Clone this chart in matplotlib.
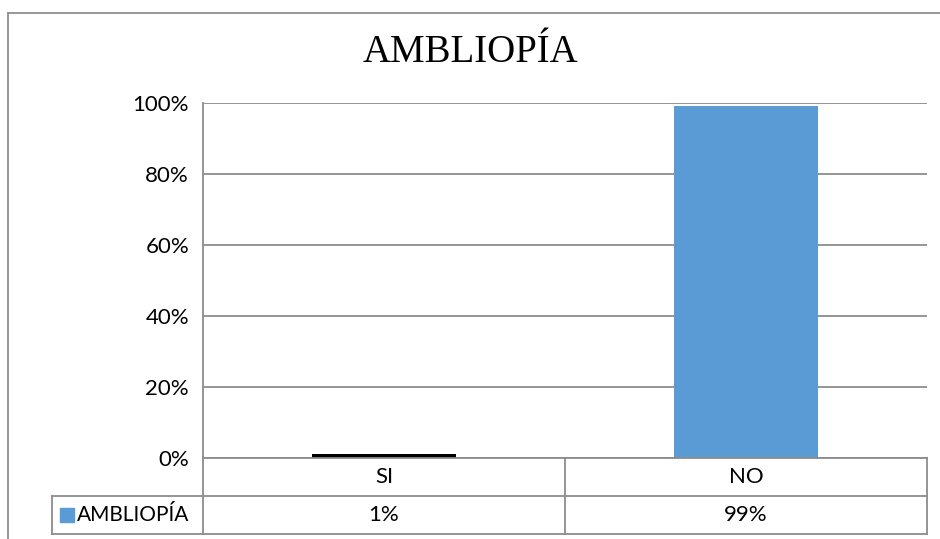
import matplotlib
matplotlib.use("Agg")
import matplotlib.pyplot as plt
from matplotlib import font_manager
from matplotlib.patches import Rectangle
from matplotlib.lines import Line2D

title = "AMBLIOPÍA"
series_name = "AMBLIOPÍA"
categories = ["SI", "NO"]
values = [0.01, 0.99]
value_labels = ["1%", "99%"]
bar_colors = ["#000000", "#5B9BD5"]
legend_color = "#5B9BD5"
yticks = [0, 0.2, 0.4, 0.6, 0.8, 1.0]
ytick_labels = ["0%", "20%", "40%", "60%", "80%", "100%"]

available = {f.name for f in font_manager.fontManager.ttflist}
sans = "Liberation Sans Narrow" if "Liberation Sans Narrow" in available else "Lato"
serif = "Liberation Serif"
FS = 16

W, H = 940, 539
fig = plt.figure(figsize=(W / 100, H / 100), dpi=100)
fig.patch.set_facecolor("white")

GRID = "#8C8C8C"


def fx(px):
    return px / W


def fy(py):
    return 1 - py / H


# outer chart frame: only its top and left edges fall inside the image
fig.add_artist(Line2D([fx(8), 1.0], [fy(12.7), fy(12.7)], transform=fig.transFigure,
                      color="#8F8F8F", linewidth=1.3))
fig.add_artist(Line2D([fx(8), fx(8)], [fy(12.7), 0.0], transform=fig.transFigure,
                      color="#8F8F8F", linewidth=1.3))

# plot area
L, R, T, B = 203, 927, 102.7, 458
ax = fig.add_axes([fx(L), fy(B), fx(R) - fx(L), fy(T) - fy(B)])
x = list(range(len(categories)))
ax.bar(x, values, width=0.4, color=bar_colors, zorder=3)
ax.set_xlim(-0.5, len(categories) - 0.5)
ax.set_ylim(0, 1)
ax.set_yticks(yticks)
ax.set_yticklabels(ytick_labels, fontsize=FS, fontfamily=sans)
ax.tick_params(axis="y", length=0, pad=10)
ax.set_xticks([])
ax.yaxis.grid(True, color=GRID, linewidth=1.3)
ax.set_axisbelow(True)
for s in ["top", "right", "bottom"]:
    ax.spines[s].set_visible(False)
ax.spines["left"].set_color(GRID)
ax.spines["left"].set_linewidth(1.3)

fig.text(0.5, fy(53), title, ha="center", va="center",
         fontsize=28, fontfamily=serif, color="black")

# data table under the plot
tab = fig.add_axes([fx(8), fy(534), fx(R) - fx(8), fy(B) - fy(534)])
tab.set_xlim(8, R)
tab.set_ylim(534, B)
tab.axis("off")
row1, row2, row3 = B, 496, 534
col_l, col_m = L, (L + R) / 2
key_left = 52
segs = [
    ((col_l, R), (row1, row1)),
    ((key_left, R), (row2, row2)),
    ((key_left, R), (row3, row3)),
    ((col_l, col_l), (row1 - 1, row3)),
    ((col_m, col_m), (row1, row3)),
    ((R, R), (row1, row3)),
    ((key_left, key_left), (row2, row3)),
]
for xs, ys in segs:
    tab.add_line(Line2D(xs, ys, color=GRID, linewidth=1.3, clip_on=False))

centers = [col_l + (R - col_l) * (i + 0.5) / len(categories) for i in range(len(categories))]
for cx, cat, lab in zip(centers, categories, value_labels):
    tab.text(cx, (row1 + row2) / 2, cat, ha="center", va="center",
             fontsize=FS, fontfamily=sans)
    tab.text(cx, (row2 + row3) / 2, lab, ha="center", va="center",
             fontsize=FS, fontfamily=sans)

tab.add_patch(Rectangle((60, 508), 14, 14, color=legend_color, clip_on=False))
tab.text(77, (row2 + row3) / 2, series_name, ha="left", va="center",
         fontsize=15, fontfamily=sans)

fig.savefig("out.png", dpi=100, facecolor="white")
